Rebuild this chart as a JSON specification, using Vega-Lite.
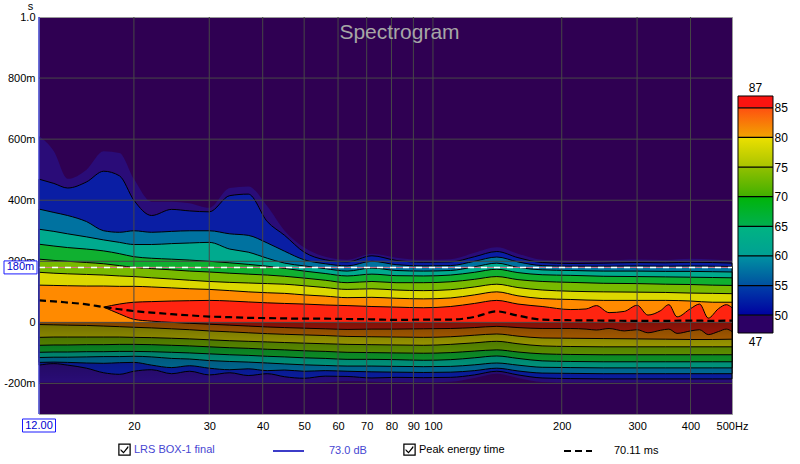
{
"$schema":"https://vega.github.io/schema/vega-lite/v6.json",
"width":693,"height":397,
"autosize":{"type":"none"},
"padding":{"left":39,"top":17,"right":68,"bottom":50},
"background":"#ffffff",
"config":{"font":"Liberation Sans","view":{"fill":"#2f0052","stroke":"#9a9a9a","strokeWidth":1},"axis":{"labelFont":"Liberation Sans","labelFontSize":11,"labelColor":"#000000"},"legend":{"labelFont":"Liberation Sans","labelFontSize":11,"padding":0}},
"title":{"text":"Spectrogram","frame":"group","anchor":"middle","offset":-24,"dx":14,"dy":36,"baseline":"alphabetic","fontSize":21,"fontWeight":"normal","color":"#a6a6a6","font":"Liberation Sans"},
"datasets":{
"bands":[
{"f":12,"l":47,"t":610,"t2":-197},{"f":13,"l":47,"t":560,"t2":-197},{"f":14,"l":47,"t":470,"t2":-197},{"f":15.5,"l":47,"t":500,"t2":-197},{"f":17,"l":47,"t":560,"t2":-197},{"f":18.5,"l":47,"t":555,"t2":-197},{"f":20,"l":47,"t":470,"t2":-197},{"f":22,"l":47,"t":395,"t2":-197},{"f":24.5,"l":47,"t":395,"t2":-197},{"f":27,"l":47,"t":390,"t2":-197},{"f":30,"l":47,"t":375,"t2":-197},{"f":33.5,"l":47,"t":440,"t2":-197},{"f":37,"l":47,"t":445,"t2":-197},{"f":41,"l":47,"t":380,"t2":-197},{"f":45,"l":47,"t":300,"t2":-197},{"f":50,"l":47,"t":245,"t2":-197},{"f":56,"l":47,"t":215,"t2":-196},{"f":63,"l":47,"t":205,"t2":-193},{"f":72,"l":47,"t":225,"t2":-194},{"f":82,"l":47,"t":212,"t2":-195},{"f":95,"l":47,"t":205,"t2":-196},{"f":110,"l":47,"t":207,"t2":-194},{"f":125,"l":47,"t":228,"t2":-182},{"f":141,"l":47,"t":246,"t2":-168},{"f":158,"l":47,"t":225,"t2":-182},{"f":180,"l":47,"t":205,"t2":-195},{"f":210,"l":47,"t":202,"t2":-197},{"f":250,"l":47,"t":203,"t2":-197},{"f":300,"l":47,"t":206,"t2":-197},{"f":350,"l":47,"t":204,"t2":-197},{"f":400,"l":47,"t":208,"t2":-197},{"f":450,"l":47,"t":206,"t2":-197},{"f":500,"l":47,"t":203,"t2":-197},
{"f":12,"l":50,"t":469,"t2":-140},{"f":13,"l":50,"t":455,"t2":-135},{"f":14,"l":50,"t":440,"t2":-140},{"f":15.5,"l":50,"t":460,"t2":-150},{"f":17,"l":50,"t":495,"t2":-165},{"f":18.5,"l":50,"t":480,"t2":-170},{"f":20,"l":50,"t":400,"t2":-160},{"f":22,"l":50,"t":350,"t2":-155},{"f":24.5,"l":50,"t":370,"t2":-168},{"f":27,"l":50,"t":365,"t2":-160},{"f":30,"l":50,"t":362,"t2":-172},{"f":33.5,"l":50,"t":415,"t2":-165},{"f":37,"l":50,"t":420,"t2":-174},{"f":41,"l":50,"t":330,"t2":-168},{"f":45,"l":50,"t":285,"t2":-178},{"f":50,"l":50,"t":230,"t2":-183},{"f":56,"l":50,"t":205,"t2":-176},{"f":63,"l":50,"t":198,"t2":-177},{"f":72,"l":50,"t":218,"t2":-182},{"f":82,"l":50,"t":203,"t2":-180},{"f":95,"l":50,"t":197,"t2":-181},{"f":110,"l":50,"t":198,"t2":-180},{"f":125,"l":50,"t":215,"t2":-172},{"f":141,"l":50,"t":232,"t2":-160},{"f":158,"l":50,"t":212,"t2":-172},{"f":180,"l":50,"t":196,"t2":-182},{"f":210,"l":50,"t":193,"t2":-184},{"f":250,"l":50,"t":194,"t2":-185},{"f":300,"l":50,"t":196,"t2":-185},{"f":350,"l":50,"t":195,"t2":-185},{"f":400,"l":50,"t":197,"t2":-185},{"f":450,"l":50,"t":196,"t2":-185},{"f":500,"l":50,"t":194,"t2":-185},
{"f":12,"l":55,"t":371,"t2":-131},{"f":13,"l":55,"t":360,"t2":-130},{"f":14,"l":55,"t":350,"t2":-131},{"f":15.5,"l":55,"t":330,"t2":-133},{"f":17,"l":55,"t":300,"t2":-134},{"f":18.5,"l":55,"t":295,"t2":-132},{"f":20,"l":55,"t":300,"t2":-131},{"f":22,"l":55,"t":295,"t2":-140},{"f":24.5,"l":55,"t":298,"t2":-148},{"f":27,"l":55,"t":300,"t2":-142},{"f":30,"l":55,"t":300,"t2":-150},{"f":33.5,"l":55,"t":290,"t2":-155},{"f":37,"l":55,"t":285,"t2":-152},{"f":41,"l":55,"t":260,"t2":-158},{"f":45,"l":55,"t":233,"t2":-156},{"f":50,"l":55,"t":205,"t2":-160},{"f":56,"l":55,"t":192,"t2":-158},{"f":63,"l":55,"t":185,"t2":-160},{"f":72,"l":55,"t":200,"t2":-162},{"f":82,"l":55,"t":189,"t2":-163},{"f":95,"l":55,"t":185,"t2":-164},{"f":110,"l":55,"t":186,"t2":-163},{"f":125,"l":55,"t":200,"t2":-158},{"f":141,"l":55,"t":214,"t2":-150},{"f":158,"l":55,"t":198,"t2":-159},{"f":180,"l":55,"t":186,"t2":-166},{"f":210,"l":55,"t":184,"t2":-167},{"f":250,"l":55,"t":184,"t2":-168},{"f":300,"l":55,"t":185,"t2":-168},{"f":350,"l":55,"t":184,"t2":-168},{"f":400,"l":55,"t":185,"t2":-168},{"f":450,"l":55,"t":184,"t2":-168},{"f":500,"l":55,"t":183,"t2":-168},
{"f":12,"l":60,"t":305,"t2":-115},{"f":13,"l":60,"t":298,"t2":-114},{"f":14,"l":60,"t":290,"t2":-114},{"f":15.5,"l":60,"t":280,"t2":-113},{"f":17,"l":60,"t":270,"t2":-112},{"f":18.5,"l":60,"t":262,"t2":-112},{"f":20,"l":60,"t":255,"t2":-111},{"f":22,"l":60,"t":255,"t2":-113},{"f":24.5,"l":60,"t":258,"t2":-118},{"f":27,"l":60,"t":260,"t2":-120},{"f":30,"l":60,"t":262,"t2":-125},{"f":33.5,"l":60,"t":240,"t2":-128},{"f":37,"l":60,"t":230,"t2":-130},{"f":41,"l":60,"t":210,"t2":-133},{"f":45,"l":60,"t":194,"t2":-136},{"f":50,"l":60,"t":185,"t2":-139},{"f":56,"l":60,"t":176,"t2":-141},{"f":63,"l":60,"t":168,"t2":-143},{"f":72,"l":60,"t":178,"t2":-143},{"f":82,"l":60,"t":170,"t2":-144},{"f":95,"l":60,"t":168,"t2":-145},{"f":110,"l":60,"t":170,"t2":-144},{"f":125,"l":60,"t":182,"t2":-139},{"f":141,"l":60,"t":194,"t2":-133},{"f":158,"l":60,"t":180,"t2":-140},{"f":180,"l":60,"t":172,"t2":-147},{"f":210,"l":60,"t":170,"t2":-148},{"f":250,"l":60,"t":168,"t2":-149},{"f":300,"l":60,"t":168,"t2":-149},{"f":350,"l":60,"t":167,"t2":-149},{"f":400,"l":60,"t":167,"t2":-149},{"f":450,"l":60,"t":166,"t2":-149},{"f":500,"l":60,"t":165,"t2":-149},
{"f":12,"l":65,"t":256,"t2":-98},{"f":13,"l":65,"t":250,"t2":-97},{"f":14,"l":65,"t":245,"t2":-97},{"f":15.5,"l":65,"t":240,"t2":-96},{"f":17,"l":65,"t":234,"t2":-96},{"f":18.5,"l":65,"t":225,"t2":-95},{"f":20,"l":65,"t":215,"t2":-95},{"f":22,"l":65,"t":210,"t2":-96},{"f":24.5,"l":65,"t":207,"t2":-98},{"f":27,"l":65,"t":204,"t2":-100},{"f":30,"l":65,"t":200,"t2":-103},{"f":33.5,"l":65,"t":195,"t2":-106},{"f":37,"l":65,"t":190,"t2":-108},{"f":41,"l":65,"t":184,"t2":-111},{"f":45,"l":65,"t":177,"t2":-113},{"f":50,"l":65,"t":168,"t2":-116},{"f":56,"l":65,"t":160,"t2":-118},{"f":63,"l":65,"t":152,"t2":-121},{"f":72,"l":65,"t":158,"t2":-121},{"f":82,"l":65,"t":153,"t2":-122},{"f":95,"l":65,"t":152,"t2":-124},{"f":110,"l":65,"t":155,"t2":-122},{"f":125,"l":65,"t":164,"t2":-116},{"f":141,"l":65,"t":174,"t2":-110},{"f":158,"l":65,"t":163,"t2":-118},{"f":180,"l":65,"t":156,"t2":-126},{"f":210,"l":65,"t":154,"t2":-128},{"f":250,"l":65,"t":151,"t2":-129},{"f":300,"l":65,"t":150,"t2":-129},{"f":350,"l":65,"t":149,"t2":-129},{"f":400,"l":65,"t":148,"t2":-129},{"f":450,"l":65,"t":147,"t2":-129},{"f":500,"l":65,"t":146,"t2":-129},
{"f":12,"l":70,"t":207,"t2":-75},{"f":13,"l":70,"t":203,"t2":-74},{"f":14,"l":70,"t":200,"t2":-74},{"f":15.5,"l":70,"t":196,"t2":-73},{"f":17,"l":70,"t":192,"t2":-73},{"f":18.5,"l":70,"t":186,"t2":-72},{"f":20,"l":70,"t":180,"t2":-72},{"f":22,"l":70,"t":176,"t2":-73},{"f":24.5,"l":70,"t":172,"t2":-75},{"f":27,"l":70,"t":168,"t2":-77},{"f":30,"l":70,"t":165,"t2":-80},{"f":33.5,"l":70,"t":161,"t2":-83},{"f":37,"l":70,"t":158,"t2":-85},{"f":41,"l":70,"t":155,"t2":-88},{"f":45,"l":70,"t":151,"t2":-90},{"f":50,"l":70,"t":145,"t2":-93},{"f":56,"l":70,"t":138,"t2":-95},{"f":63,"l":70,"t":130,"t2":-98},{"f":72,"l":70,"t":134,"t2":-99},{"f":82,"l":70,"t":130,"t2":-100},{"f":95,"l":70,"t":130,"t2":-101},{"f":110,"l":70,"t":133,"t2":-99},{"f":125,"l":70,"t":141,"t2":-94},{"f":141,"l":70,"t":150,"t2":-90},{"f":158,"l":70,"t":140,"t2":-97},{"f":180,"l":70,"t":134,"t2":-103},{"f":210,"l":70,"t":131,"t2":-105},{"f":250,"l":70,"t":128,"t2":-106},{"f":300,"l":70,"t":127,"t2":-106},{"f":350,"l":70,"t":125,"t2":-106},{"f":400,"l":70,"t":124,"t2":-106},{"f":450,"l":70,"t":122,"t2":-106},{"f":500,"l":70,"t":121,"t2":-106},
{"f":12,"l":75,"t":164,"t2":-49},{"f":13,"l":75,"t":161,"t2":-48},{"f":14,"l":75,"t":159,"t2":-48},{"f":15.5,"l":75,"t":157,"t2":-48},{"f":17,"l":75,"t":155,"t2":-48},{"f":18.5,"l":75,"t":152,"t2":-48},{"f":20,"l":75,"t":150,"t2":-49},{"f":22,"l":75,"t":146,"t2":-50},{"f":24.5,"l":75,"t":142,"t2":-52},{"f":27,"l":75,"t":138,"t2":-54},{"f":30,"l":75,"t":134,"t2":-57},{"f":33.5,"l":75,"t":131,"t2":-60},{"f":37,"l":75,"t":129,"t2":-62},{"f":41,"l":75,"t":127,"t2":-64},{"f":45,"l":75,"t":125,"t2":-66},{"f":50,"l":75,"t":120,"t2":-68},{"f":56,"l":75,"t":114,"t2":-70},{"f":63,"l":75,"t":108,"t2":-72},{"f":72,"l":75,"t":110,"t2":-73},{"f":82,"l":75,"t":106,"t2":-74},{"f":95,"l":75,"t":104,"t2":-75},{"f":110,"l":75,"t":107,"t2":-72},{"f":125,"l":75,"t":116,"t2":-67},{"f":141,"l":75,"t":125,"t2":-62},{"f":158,"l":75,"t":114,"t2":-70},{"f":180,"l":75,"t":106,"t2":-77},{"f":210,"l":75,"t":102,"t2":-79},{"f":250,"l":75,"t":100,"t2":-80},{"f":300,"l":75,"t":99,"t2":-80},{"f":350,"l":75,"t":98,"t2":-80},{"f":400,"l":75,"t":96,"t2":-80},{"f":450,"l":75,"t":95,"t2":-80},{"f":500,"l":75,"t":94,"t2":-80},
{"f":12,"l":80,"t":122,"t2":-7},{"f":13,"l":80,"t":121,"t2":-8},{"f":14,"l":80,"t":120,"t2":-9},{"f":15.5,"l":80,"t":119,"t2":-10},{"f":17,"l":80,"t":119,"t2":-12},{"f":18.5,"l":80,"t":118,"t2":-14},{"f":20,"l":80,"t":118,"t2":-16},{"f":22,"l":80,"t":116,"t2":-18},{"f":24.5,"l":80,"t":113,"t2":-21},{"f":27,"l":80,"t":110,"t2":-24},{"f":30,"l":80,"t":108,"t2":-28},{"f":33.5,"l":80,"t":104,"t2":-31},{"f":37,"l":80,"t":100,"t2":-34},{"f":41,"l":80,"t":97,"t2":-37},{"f":45,"l":80,"t":95,"t2":-39},{"f":50,"l":80,"t":90,"t2":-41},{"f":56,"l":80,"t":86,"t2":-43},{"f":63,"l":80,"t":81,"t2":-46},{"f":72,"l":80,"t":82,"t2":-47},{"f":82,"l":80,"t":79,"t2":-48},{"f":95,"l":80,"t":77,"t2":-49},{"f":110,"l":80,"t":80,"t2":-47},{"f":125,"l":80,"t":90,"t2":-42},{"f":141,"l":80,"t":100,"t2":-38},{"f":158,"l":80,"t":87,"t2":-45},{"f":180,"l":80,"t":78,"t2":-51},{"f":210,"l":80,"t":75,"t2":-52},{"f":250,"l":80,"t":72,"t2":-53},{"f":300,"l":80,"t":72,"t2":-54},{"f":350,"l":80,"t":72,"t2":-55},{"f":400,"l":80,"t":70,"t2":-56},{"f":450,"l":80,"t":66,"t2":-56},{"f":500,"l":80,"t":66,"t2":-55},
{"f":17,"l":85,"t":50,"t2":50},{"f":18.5,"l":85,"t":60,"t2":28},{"f":20,"l":85,"t":66,"t2":10},{"f":22,"l":85,"t":68,"t2":4},{"f":24.5,"l":85,"t":70,"t2":0},{"f":27,"l":85,"t":71,"t2":-3},{"f":30,"l":85,"t":72,"t2":-6},{"f":33.5,"l":85,"t":70,"t2":-9},{"f":37,"l":85,"t":67,"t2":-12},{"f":41,"l":85,"t":64,"t2":-15},{"f":45,"l":85,"t":62,"t2":-17},{"f":50,"l":85,"t":60,"t2":-19},{"f":56,"l":85,"t":57,"t2":-21},{"f":63,"l":85,"t":55,"t2":-23},{"f":72,"l":85,"t":52,"t2":-22},{"f":82,"l":85,"t":50,"t2":-22},{"f":95,"l":85,"t":48,"t2":-21},{"f":110,"l":85,"t":52,"t2":-20},{"f":125,"l":85,"t":62,"t2":-17},{"f":141,"l":85,"t":72,"t2":-13},{"f":158,"l":85,"t":60,"t2":-17},{"f":180,"l":85,"t":52,"t2":-20},{"f":210,"l":85,"t":42,"t2":-20},{"f":228,"l":85,"t":44,"t2":-22},{"f":241,"l":85,"t":55,"t2":-25},{"f":258,"l":85,"t":32,"t2":-20},{"f":280,"l":85,"t":36,"t2":-28},{"f":300,"l":85,"t":56,"t2":-24},{"f":318,"l":85,"t":24,"t2":-34},{"f":340,"l":85,"t":38,"t2":-26},{"f":356,"l":85,"t":58,"t2":-22},{"f":372,"l":85,"t":18,"t2":-36},{"f":400,"l":85,"t":45,"t2":-28},{"f":420,"l":85,"t":60,"t2":-24},{"f":440,"l":85,"t":14,"t2":-40},{"f":465,"l":85,"t":45,"t2":-30},{"f":485,"l":85,"t":58,"t2":-22},{"f":500,"l":85,"t":48,"t2":-30}
],
"peak":[{"f":12,"t":72},{"f":13,"t":69},{"f":14,"t":65},{"f":15.5,"t":59},{"f":17,"t":50},{"f":18.5,"t":43},{"f":20,"t":37},{"f":22,"t":32},{"f":24.5,"t":27},{"f":27,"t":23},{"f":30,"t":19},{"f":33.5,"t":17},{"f":37,"t":15},{"f":41,"t":14},{"f":45,"t":13},{"f":50,"t":12},{"f":56,"t":12},{"f":63,"t":11},{"f":72,"t":10},{"f":82,"t":8},{"f":95,"t":9},{"f":110,"t":9},{"f":125,"t":18},{"f":141,"t":36},{"f":158,"t":22},{"f":180,"t":9},{"f":210,"t":7},{"f":250,"t":6},{"f":300,"t":5},{"f":350,"t":5},{"f":400,"t":6},{"f":450,"t":5},{"f":500,"t":6}],
"gridf":[{"f":20},{"f":30},{"f":40},{"f":50},{"f":60},{"f":70},{"f":80},{"f":90},{"f":100},{"f":200},{"f":300},{"f":400}],
"gridt":[{"t":-200},{"t":0},{"t":200},{"t":400},{"t":600},{"t":800}],
"cbticks":[{"a":50},{"a":55},{"a":60},{"a":65},{"a":70},{"a":75},{"a":80},{"a":85}]
},
"layer":[
{"data":{"name":"bands"},"transform":[{"filter":"datum.l==47"}],"mark":{"type":"area","interpolate":"monotone","orient":"vertical","strokeWidth":0},
 "encoding":{
 "x":{"field":"f","type":"quantitative","scale":{"type":"log","domain":[12,500],"nice":false},"axis":{"values":[20,30,40,50,60,70,80,90,100,200,300,400,500],"format":"d","labelExpr":"datum.value==500?'500Hz':datum.label","grid":false,"domain":false,"ticks":false,"labelPadding":6,"labelFontSize":11,"labelColor":"#000000","labelFlush":false,"labelOverlap":false,"title":null}},
 "y":{"field":"t","type":"quantitative","scale":{"domain":[-300,1000],"nice":false,"zero":false},"axis":{"values":[-200,0,200,400,600,800,1000],"labelExpr":"datum.value==1000?'1.0':datum.value==0?'0':datum.value+'m'","grid":false,"domain":false,"ticks":false,"labelPadding":4,"labelFontSize":11,"labelColor":"#000000","labelFlush":false,"labelOverlap":false,"title":"s","titleAngle":0,"titleX":-9,"titleY":-11,"titleFontWeight":"normal","titleFontSize":11,"titleAlign":"center","titleBaseline":"middle","titleColor":"#000000"}},
 "y2":{"field":"t2"},
 "fill":{"field":"l","type":"ordinal","scale":{"domain":[47,50,55,60,65,70,75,80,85],"range":["#2a0c78","#0a1ea4","#0072a0","#00aa8e","#10b030","#78ba00","#dcd800","#ff8a00","#ff2410"]},"legend":null},
 "opacity":{"datum":"LRS BOX-1 final","type":"nominal","scale":{"domain":["LRS BOX-1 final","Peak energy time"],"range":[1,1]},"legend":{"orient":"none","legendX":79,"legendY":426,"direction":"horizontal","title":null,"symbolType":"M-1,-1H1V1H-1Z M-0.8,-0.8V0.8H0.8V-0.8Z M-0.62,-0.12L-0.15,0.34L0.58,-0.62L0.62,-0.3L-0.15,0.62L-0.62,0.16Z","symbolSize":156,"symbolFillColor":"#202020","symbolStrokeWidth":0,"labelOffset":3,"columnPadding":188,"labelFontSize":11,"labelColor":{"expr":"datum.label=='LRS BOX-1 final'?'#4646d2':'#000000'"}}}}},
{"data":{"name":"bands"},"transform":[{"filter":"datum.l==50"}],"mark":{"type":"area","interpolate":"monotone","orient":"vertical","stroke":"#000000","strokeWidth":1},"encoding":{"x":{"field":"f","type":"quantitative","scale":{"type":"log","domain":[12,500],"nice":false},"axis":null},"y":{"field":"t","type":"quantitative","scale":{"domain":[-300,1000],"nice":false,"zero":false},"axis":null},"y2":{"field":"t2"},"fill":{"field":"l","type":"ordinal"},"opacity":{"datum":"LRS BOX-1 final","type":"nominal"}}},
{"data":{"name":"bands"},"transform":[{"filter":"datum.l==55"}],"mark":{"type":"area","interpolate":"monotone","orient":"vertical","stroke":"#000000","strokeWidth":1},"encoding":{"x":{"field":"f","type":"quantitative","scale":{"type":"log","domain":[12,500],"nice":false},"axis":null},"y":{"field":"t","type":"quantitative","scale":{"domain":[-300,1000],"nice":false,"zero":false},"axis":null},"y2":{"field":"t2"},"fill":{"field":"l","type":"ordinal"},"opacity":{"datum":"LRS BOX-1 final","type":"nominal"}}},
{"data":{"name":"bands"},"transform":[{"filter":"datum.l==60"}],"mark":{"type":"area","interpolate":"monotone","orient":"vertical","stroke":"#000000","strokeWidth":1},"encoding":{"x":{"field":"f","type":"quantitative","scale":{"type":"log","domain":[12,500],"nice":false},"axis":null},"y":{"field":"t","type":"quantitative","scale":{"domain":[-300,1000],"nice":false,"zero":false},"axis":null},"y2":{"field":"t2"},"fill":{"field":"l","type":"ordinal"},"opacity":{"datum":"LRS BOX-1 final","type":"nominal"}}},
{"data":{"name":"bands"},"transform":[{"filter":"datum.l==65"}],"mark":{"type":"area","interpolate":"monotone","orient":"vertical","stroke":"#000000","strokeWidth":1},"encoding":{"x":{"field":"f","type":"quantitative","scale":{"type":"log","domain":[12,500],"nice":false},"axis":null},"y":{"field":"t","type":"quantitative","scale":{"domain":[-300,1000],"nice":false,"zero":false},"axis":null},"y2":{"field":"t2"},"fill":{"field":"l","type":"ordinal"},"opacity":{"datum":"LRS BOX-1 final","type":"nominal"}}},
{"data":{"name":"bands"},"transform":[{"filter":"datum.l==70"}],"mark":{"type":"area","interpolate":"monotone","orient":"vertical","stroke":"#000000","strokeWidth":1},"encoding":{"x":{"field":"f","type":"quantitative","scale":{"type":"log","domain":[12,500],"nice":false},"axis":null},"y":{"field":"t","type":"quantitative","scale":{"domain":[-300,1000],"nice":false,"zero":false},"axis":null},"y2":{"field":"t2"},"fill":{"field":"l","type":"ordinal"},"opacity":{"datum":"LRS BOX-1 final","type":"nominal"}}},
{"data":{"name":"bands"},"transform":[{"filter":"datum.l==75"}],"mark":{"type":"area","interpolate":"monotone","orient":"vertical","stroke":"#000000","strokeWidth":1},"encoding":{"x":{"field":"f","type":"quantitative","scale":{"type":"log","domain":[12,500],"nice":false},"axis":null},"y":{"field":"t","type":"quantitative","scale":{"domain":[-300,1000],"nice":false,"zero":false},"axis":null},"y2":{"field":"t2"},"fill":{"field":"l","type":"ordinal"},"opacity":{"datum":"LRS BOX-1 final","type":"nominal"}}},
{"data":{"name":"bands"},"transform":[{"filter":"datum.l==80"}],"mark":{"type":"area","interpolate":"monotone","orient":"vertical","stroke":"#000000","strokeWidth":1},"encoding":{"x":{"field":"f","type":"quantitative","scale":{"type":"log","domain":[12,500],"nice":false},"axis":null},"y":{"field":"t","type":"quantitative","scale":{"domain":[-300,1000],"nice":false,"zero":false},"axis":null},"y2":{"field":"t2"},"fill":{"field":"l","type":"ordinal"},"opacity":{"datum":"LRS BOX-1 final","type":"nominal"}}},
{"data":{"name":"bands"},"transform":[{"filter":"datum.l==85"}],"mark":{"type":"area","interpolate":"monotone","orient":"vertical","stroke":"#000000","strokeWidth":1},"encoding":{"x":{"field":"f","type":"quantitative","scale":{"type":"log","domain":[12,500],"nice":false},"axis":null},"y":{"field":"t","type":"quantitative","scale":{"domain":[-300,1000],"nice":false,"zero":false},"axis":null},"y2":{"field":"t2"},"fill":{"field":"l","type":"ordinal"},"opacity":{"datum":"LRS BOX-1 final","type":"nominal"}}},
{"data":{"values":[{}]},"mark":{"type":"rect","fill":{"gradient":"linear","x1":0,"y1":0,"x2":0,"y2":1,"stops":[{"offset":0,"color":"rgba(0,0,0,0.5)"},{"offset":0.6,"color":"rgba(0,0,0,0.2)"},{"offset":1,"color":"rgba(0,0,0,0)"}]}},
 "encoding":{"x":{"datum":12,"type":"quantitative","scale":{"type":"log","domain":[12,500],"nice":false},"axis":null},"x2":{"datum":500},"y":{"datum":0,"type":"quantitative","scale":{"domain":[-300,1000],"nice":false,"zero":false},"axis":null},"y2":{"datum":-200}}},
{"data":{"name":"gridf"},"mark":{"type":"rule","stroke":"#474747","strokeWidth":1},"encoding":{"x":{"field":"f","type":"quantitative","scale":{"type":"log","domain":[12,500],"nice":false},"axis":null},"y":{"datum":-300,"type":"quantitative","scale":{"domain":[-300,1000],"nice":false,"zero":false},"axis":null},"y2":{"datum":1000}}},
{"data":{"name":"gridt"},"mark":{"type":"rule","stroke":"#474747","strokeWidth":1},"encoding":{"x":{"datum":12,"type":"quantitative","scale":{"type":"log","domain":[12,500],"nice":false},"axis":null},"x2":{"datum":500},"y":{"field":"t","type":"quantitative","scale":{"domain":[-300,1000],"nice":false,"zero":false},"axis":null}}},
{"data":{"values":[{}]},"mark":{"type":"rule","stroke":"#e07890","strokeWidth":1},"encoding":{"x":{"datum":12,"type":"quantitative","scale":{"type":"log","domain":[12,500],"nice":false},"axis":null},"x2":{"datum":500},"y":{"datum":180,"type":"quantitative","scale":{"domain":[-300,1000],"nice":false,"zero":false},"axis":null}}},
{"data":{"values":[{}]},"mark":{"type":"rule","stroke":"#ffffff","strokeWidth":1.5,"strokeDash":[6,7]},"encoding":{"x":{"datum":12,"type":"quantitative","scale":{"type":"log","domain":[12,500],"nice":false},"axis":null},"x2":{"datum":500},"y":{"datum":180,"type":"quantitative","scale":{"domain":[-300,1000],"nice":false,"zero":false},"axis":null}}},
{"data":{"name":"peak"},"mark":{"type":"line","interpolate":"monotone","stroke":"#000000","strokeWidth":2.2},
 "encoding":{"x":{"field":"f","type":"quantitative","scale":{"type":"log","domain":[12,500],"nice":false},"axis":null},"y":{"field":"t","type":"quantitative","scale":{"domain":[-300,1000],"nice":false,"zero":false},"axis":null},
 "strokeDash":{"datum":"70.11 ms","type":"nominal","scale":{"domain":["70.11 ms"],"range":[[7,4]]},"legend":{"orient":"none","legendX":524,"legendY":419,"direction":"horizontal","title":null,"symbolType":"stroke","symbolSize":784,"symbolStrokeWidth":2,"symbolStrokeColor":"#000000","labelOffset":21,"labelFontSize":11,"labelColor":"#000000"}},
 "opacity":{"datum":"Peak energy time","type":"nominal"}}},
{"data":{"values":[{}]},"mark":{"type":"rule","strokeWidth":1.5},
 "encoding":{"x":{"datum":12,"type":"quantitative","scale":{"type":"log","domain":[12,500],"nice":false},"axis":null},"y":{"datum":-300,"type":"quantitative","scale":{"domain":[-300,1000],"nice":false,"zero":false},"axis":null},"y2":{"datum":1000},
 "stroke":{"datum":"73.0 dB","type":"nominal","scale":{"domain":["73.0 dB"],"range":["#3c3cc8"]},"legend":{"orient":"none","legendX":233,"legendY":417.5,"direction":"horizontal","title":null,"symbolType":"stroke","symbolSize":961,"symbolStrokeWidth":2,"labelOffset":24,"labelFontSize":11,"labelColor":"#4646d2"}}}},
{"data":{"values":[{}]},"mark":{"type":"point","shape":"M-1,-0.394H1V0.394H-1Z","size":1089,"filled":true,"fill":"#ffffff","stroke":"#1a1aff","strokeWidth":1,"opacity":1,"xOffset":-18.5},
 "encoding":{"x":{"datum":12,"type":"quantitative","scale":{"type":"log","domain":[12,500],"nice":false},"axis":null},"y":{"datum":180,"type":"quantitative","scale":{"domain":[-300,1000],"nice":false,"zero":false},"axis":null}}},
{"data":{"values":[{}]},"mark":{"type":"text","text":"180m","dx":-18.5,"align":"center","baseline":"middle","fontSize":11,"fill":"#0000d0"},
 "encoding":{"x":{"datum":12,"type":"quantitative","scale":{"type":"log","domain":[12,500],"nice":false},"axis":null},"y":{"datum":180,"type":"quantitative","scale":{"domain":[-300,1000],"nice":false,"zero":false},"axis":null}}},
{"data":{"values":[{}]},"mark":{"type":"point","shape":"M-1,-0.394H1V0.394H-1Z","size":1089,"filled":true,"fill":"#ffffff","stroke":"#1a1aff","strokeWidth":1,"opacity":1,"yOffset":11.5},
 "encoding":{"x":{"datum":12,"type":"quantitative","scale":{"type":"log","domain":[12,500],"nice":false},"axis":null},"y":{"datum":-300,"type":"quantitative","scale":{"domain":[-300,1000],"nice":false,"zero":false},"axis":null}}},
{"data":{"values":[{}]},"mark":{"type":"text","text":"12.00","dy":11.5,"align":"center","baseline":"middle","fontSize":11,"fill":"#0000d0"},
 "encoding":{"x":{"datum":12,"type":"quantitative","scale":{"type":"log","domain":[12,500],"nice":false},"axis":null},"y":{"datum":-300,"type":"quantitative","scale":{"domain":[-300,1000],"nice":false,"zero":false},"axis":null}}},
{"data":{"values":[{}]},"mark":{"type":"rect","fill":"#2c0064"},"encoding":{"x":{"datum":0,"type":"quantitative","scale":{"domain":[-19.971,-0.171],"nice":false,"zero":false},"axis":null},"x2":{"datum":1},"y":{"datum":47,"type":"quantitative","scale":{"domain":[33.33,100.33],"nice":false,"zero":false},"axis":{"orient":"right","offset":38,"values":[50,55,60,65,70,75,80,85],"domain":false,"ticks":false,"grid":false,"labelPadding":4,"labelFontSize":12,"labelColor":"#000000","title":null,"labelFlush":false,"labelOverlap":false}},"y2":{"datum":50}}},
{"data":{"values":[{}]},"mark":{"type":"rect","fill":{"gradient":"linear","x1":0,"y1":0,"x2":0,"y2":1,"stops":[{"offset":0,"color":"#0040a8"},{"offset":1,"color":"#0000a0"}]}},"encoding":{"x":{"datum":0,"type":"quantitative","scale":{"domain":[-19.971,-0.171],"nice":false,"zero":false},"axis":null},"x2":{"datum":1},"y":{"datum":50,"type":"quantitative","scale":{"domain":[33.33,100.33],"nice":false,"zero":false},"axis":null},"y2":{"datum":55}}},
{"data":{"values":[{}]},"mark":{"type":"rect","fill":{"gradient":"linear","x1":0,"y1":0,"x2":0,"y2":1,"stops":[{"offset":0,"color":"#0092a2"},{"offset":1,"color":"#0050a0"}]}},"encoding":{"x":{"datum":0,"type":"quantitative","scale":{"domain":[-19.971,-0.171],"nice":false,"zero":false},"axis":null},"x2":{"datum":1},"y":{"datum":55,"type":"quantitative","scale":{"domain":[33.33,100.33],"nice":false,"zero":false},"axis":null},"y2":{"datum":60}}},
{"data":{"values":[{}]},"mark":{"type":"rect","fill":{"gradient":"linear","x1":0,"y1":0,"x2":0,"y2":1,"stops":[{"offset":0,"color":"#00b482"},{"offset":1,"color":"#00a094"}]}},"encoding":{"x":{"datum":0,"type":"quantitative","scale":{"domain":[-19.971,-0.171],"nice":false,"zero":false},"axis":null},"x2":{"datum":1},"y":{"datum":60,"type":"quantitative","scale":{"domain":[33.33,100.33],"nice":false,"zero":false},"axis":null},"y2":{"datum":65}}},
{"data":{"values":[{}]},"mark":{"type":"rect","fill":{"gradient":"linear","x1":0,"y1":0,"x2":0,"y2":1,"stops":[{"offset":0,"color":"#00b408"},{"offset":1,"color":"#00b050"}]}},"encoding":{"x":{"datum":0,"type":"quantitative","scale":{"domain":[-19.971,-0.171],"nice":false,"zero":false},"axis":null},"x2":{"datum":1},"y":{"datum":65,"type":"quantitative","scale":{"domain":[33.33,100.33],"nice":false,"zero":false},"axis":null},"y2":{"datum":70}}},
{"data":{"values":[{}]},"mark":{"type":"rect","fill":{"gradient":"linear","x1":0,"y1":0,"x2":0,"y2":1,"stops":[{"offset":0,"color":"#92c000"},{"offset":1,"color":"#40b000"}]}},"encoding":{"x":{"datum":0,"type":"quantitative","scale":{"domain":[-19.971,-0.171],"nice":false,"zero":false},"axis":null},"x2":{"datum":1},"y":{"datum":70,"type":"quantitative","scale":{"domain":[33.33,100.33],"nice":false,"zero":false},"axis":null},"y2":{"datum":75}}},
{"data":{"values":[{}]},"mark":{"type":"rect","fill":{"gradient":"linear","x1":0,"y1":0,"x2":0,"y2":1,"stops":[{"offset":0,"color":"#ece000"},{"offset":1,"color":"#a8c400"}]}},"encoding":{"x":{"datum":0,"type":"quantitative","scale":{"domain":[-19.971,-0.171],"nice":false,"zero":false},"axis":null},"x2":{"datum":1},"y":{"datum":75,"type":"quantitative","scale":{"domain":[33.33,100.33],"nice":false,"zero":false},"axis":null},"y2":{"datum":80}}},
{"data":{"values":[{}]},"mark":{"type":"rect","fill":{"gradient":"linear","x1":0,"y1":0,"x2":0,"y2":1,"stops":[{"offset":0,"color":"#ff5010"},{"offset":1,"color":"#f2a400"}]}},"encoding":{"x":{"datum":0,"type":"quantitative","scale":{"domain":[-19.971,-0.171],"nice":false,"zero":false},"axis":null},"x2":{"datum":1},"y":{"datum":80,"type":"quantitative","scale":{"domain":[33.33,100.33],"nice":false,"zero":false},"axis":null},"y2":{"datum":85}}},
{"data":{"values":[{}]},"mark":{"type":"rect","fill":"#fa1410"},"encoding":{"x":{"datum":0,"type":"quantitative","scale":{"domain":[-19.971,-0.171],"nice":false,"zero":false},"axis":null},"x2":{"datum":1},"y":{"datum":85,"type":"quantitative","scale":{"domain":[33.33,100.33],"nice":false,"zero":false},"axis":null},"y2":{"datum":87}}},
{"data":{"name":"cbticks"},"mark":{"type":"rule","stroke":"#000000","strokeWidth":1.2},"encoding":{"x":{"datum":0,"type":"quantitative","scale":{"domain":[-19.971,-0.171],"nice":false,"zero":false},"axis":null},"x2":{"datum":1},"y":{"field":"a","type":"quantitative","scale":{"domain":[33.33,100.33],"nice":false,"zero":false},"axis":null}}},
{"data":{"values":[{}]},"mark":{"type":"rect","filled":false,"stroke":"#000000","strokeWidth":1},"encoding":{"x":{"datum":0,"type":"quantitative","scale":{"domain":[-19.971,-0.171],"nice":false,"zero":false},"axis":null},"x2":{"datum":1},"y":{"datum":47,"type":"quantitative","scale":{"domain":[33.33,100.33],"nice":false,"zero":false},"axis":null},"y2":{"datum":87}}},
{"data":{"values":[{}]},"mark":{"type":"text","text":"87","dy":-8,"align":"center","baseline":"middle","fontSize":12,"fill":"#000000"},"encoding":{"x":{"datum":0.5,"type":"quantitative","scale":{"domain":[-19.971,-0.171],"nice":false,"zero":false},"axis":null},"y":{"datum":87,"type":"quantitative","scale":{"domain":[33.33,100.33],"nice":false,"zero":false},"axis":null}}},
{"data":{"values":[{}]},"mark":{"type":"text","text":"47","dy":9,"align":"center","baseline":"middle","fontSize":12,"fill":"#000000"},"encoding":{"x":{"datum":0.5,"type":"quantitative","scale":{"domain":[-19.971,-0.171],"nice":false,"zero":false},"axis":null},"y":{"datum":47,"type":"quantitative","scale":{"domain":[33.33,100.33],"nice":false,"zero":false},"axis":null}}}
],
"resolve":{"scale":{"x":"independent","y":"independent"}}
}
